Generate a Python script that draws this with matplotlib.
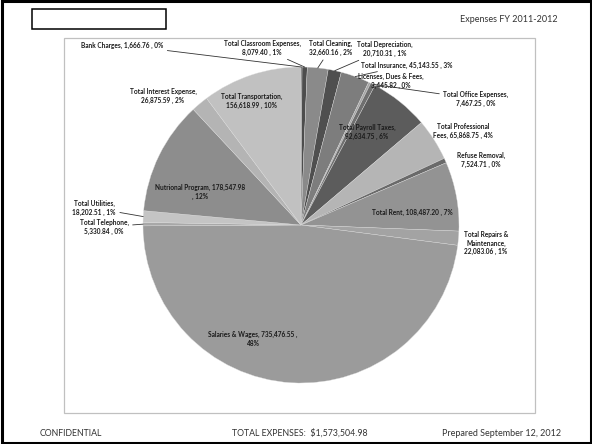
import numpy as np
import matplotlib
matplotlib.use("Agg")
import matplotlib.pyplot as plt
from matplotlib.patches import Rectangle

plt.rcParams['font.family'] = ['Lato', 'DejaVu Sans']

# expense categories, in drawing order (clockwise from 12 o'clock)
categories = [
    "Bank Charges", "Total Classroom Expenses", "Total Cleaning",
    "Total Depreciation", "Total Insurance", "Licenses, Dues & Fees",
    "Total Office Expenses", "Total Payroll Taxes", "Total Professional Fees",
    "Refuse Removal", "Total Rent", "Total Repairs & Maintenance",
    "Salaries & Wages", "Total Telephone", "Total Utilities",
    "Nutrional Program", "Total Interest Expense", "Total Transportation",
]
amounts = [
    1666.76, 8079.40, 32660.16,
    20710.31, 45143.55, 3445.82,
    7467.25, 92634.75, 65868.75,
    7524.71, 108487.20, 22083.06,
    735476.55, 5330.84, 18202.51,
    178547.98, 26875.59, 156618.99,
]
grays = [
    "#3f3f3f", "#4d4d4d", "#8a8a8a",
    "#4f4f4f", "#7d7d7d", "#a5a5a5",
    "#6f6f6f", "#5c5c5c", "#b5b5b5",
    "#6a6a6a", "#939393", "#a3a3a3",
    "#9b9b9b", "#a8a8a8", "#c4c4c4",
    "#8d8d8d", "#b4b4b4", "#c1c1c1",
]
# label text layout; {v} = amount, {p} = percent
label_fmt = [
    "Bank Charges, {v} , {p}%",
    "Total Classroom Expenses,\n{v} , {p}%",
    "Total Cleaning,\n{v} , {p}%",
    "Total Depreciation,\n{v} , {p}%",
    "Total Insurance, {v} , {p}%",
    "Licenses, Dues & Fees,\n{v} , {p}%",
    "Total Office Expenses,\n{v} , {p}%",
    "Total Payroll Taxes,\n{v} , {p}%",
    "Total Professional\nFees, {v} , {p}%",
    "Refuse Removal,\n{v} , {p}%",
    "Total Rent, {v} , {p}%",
    "Total Repairs &\nMaintenance,\n{v} , {p}%",
    "Salaries & Wages, {v} ,\n{p}%",
    "Total Telephone,\n{v} , {p}%",
    "Total Utilities,\n{v} , {p}%",
    "Nutrional Program, {v}\n, {p}%",
    "Total Interest Expense,\n{v} , {p}%",
    "Total Transportation,\n{v} , {p}%",
]
# label centre in pixels (x, y from top), and whether a leader line is drawn
label_pos = [
    (122, 45), (262, 48), (331, 48),
    (385, 49), (407, 65), (391, 81),
    (476, 99), (367, 132), (463, 131),
    (481, 160), (412, 212), (486, 243),
    (253, 339), (104, 227), (94, 208),
    (200, 192), (163, 96), (252, 101),
]
leader = [True, True, True, True, True, False,
          True, False, False, False, False, False,
          False, True, True, False, False, False]

W, H = 592, 444
fig = plt.figure(figsize=(W / 100, H / 100), dpi=100)

# page decorations
bg = fig.add_axes([0, 0, 1, 1])
bg.set_xlim(0, W)
bg.set_ylim(H, 0)
bg.axis("off")
bg.add_patch(Rectangle((1.5, 1.5), W - 3, H - 3, fill=False, ec="black", lw=2.2))
bg.add_patch(Rectangle((32, 9), 134, 20, fill=False, ec="black", lw=1.1))
bg.add_patch(Rectangle((64, 38), 471, 375, fill=False, ec="#c0c0c0", lw=0.9))
bg.text(509, 20, "Expenses FY 2011-2012", ha="center", va="center",
        fontsize=6.5, color="#333333")
bg.text(40, 433, "CONFIDENTIAL", ha="left", va="center", fontsize=6.3, color="#333333")
bg.text(300, 433, "TOTAL EXPENSES:  $1,573,504.98", ha="center", va="center",
        fontsize=6.3, color="#333333")
bg.text(561, 433, "Prepared September 12, 2012", ha="right", va="center",
        fontsize=6.5, color="#333333")

# pie
cx, cy, r = 301, 225, 158
ax = fig.add_axes([(cx - r) / W, 1 - (cy + r) / H, 2 * r / W, 2 * r / H])
wedges, _ = ax.pie(amounts, colors=grays, startangle=90, counterclock=False,
                   radius=1, wedgeprops=dict(edgecolor="#dcdcdc", linewidth=0.25))
ax.set_xlim(-1, 1)
ax.set_ylim(-1, 1)
ax.axis("off")

total = sum(amounts)
for w, fmt, v, (px, py), ln in zip(wedges, label_fmt, amounts, label_pos, leader):
    txt = fmt.format(v=f"{v:,.2f}", p=int(round(v / total * 100)))
    mid = np.deg2rad((w.theta1 + w.theta2) / 2)
    edge = (np.cos(mid), np.sin(mid))
    kw = dict(ha="center", va="center", fontsize=4.7, fontweight="bold",
              color="#1a1a1a", linespacing=1.3)
    if ln:
        ax.annotate(txt, xy=edge, xytext=(px, H - py), textcoords="figure pixels",
                    arrowprops=dict(arrowstyle="-", color="#333333", lw=0.6,
                                    shrinkA=1, shrinkB=0), **kw)
    else:
        ax.annotate(txt, xy=edge, xytext=(px, H - py), textcoords="figure pixels", **kw)

fig.savefig("out.png", dpi=100)
